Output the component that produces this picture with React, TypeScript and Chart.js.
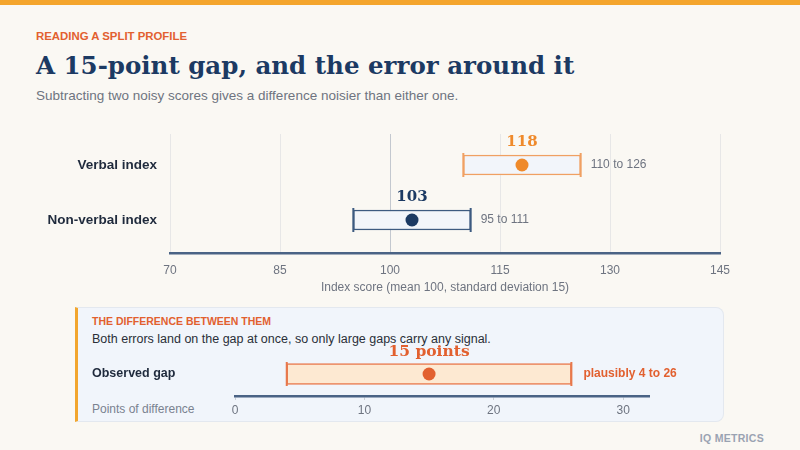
import React, { useEffect, useRef } from "react";
import { Chart, registerables } from "chart.js";

Chart.register(...registerables);

// ---- data ----
const categories = ["Verbal index", "Non-verbal index"];
const scores = [118, 103];
const lows = [110, 95];
const highs = [126, 111];
const scoreTicks = [70, 85, 100, 115, 130, 145];

const gapLabels = ["Observed gap"];
const gapValues = [15];
const gapLows = [4];
const gapHighs = [26];
const gapTicks = [0, 10, 20, 30];

// ---- styles ----
const SANS = "'Liberation Sans', Arial, Helvetica, sans-serif";
const SERIF = "'DejaVu Serif', Georgia, serif";
const NAVY = "#1c3a63";
const ORANGE = "#ef8a2b";
const RED_ORANGE = "#e2602f";
const AXIS = "#4a6385";
const GRAY = "#6e7480";
const rowColors = [ORANGE, NAVY];
const rowBorders = ["#f0a062", "#3c5a80"];

Chart.defaults.font.family = SANS;

const scorePlugin = {
  id: "scoreLabels",
  afterDatasetsDraw(chart: any) {
    const { ctx, scales } = chart;
    const xs = scales.x;
    const ys = scales.y;
    ctx.save();
    categories.forEach((_, i) => {
      const y = ys.getPixelForValue(i + 1);
      const xl = xs.getPixelForValue(lows[i]);
      const xh = xs.getPixelForValue(highs[i]);
      const xm = xs.getPixelForValue(scores[i]);
      ctx.strokeStyle = rowBorders[i];
      ctx.lineWidth = 2;
      ctx.beginPath();
      ctx.moveTo(xl, y - 12);
      ctx.lineTo(xl, y + 12);
      ctx.moveTo(xh, y - 12);
      ctx.lineTo(xh, y + 12);
      ctx.stroke();
      ctx.fillStyle = rowColors[i];
      ctx.font = `bold 15px ${SERIF}`;
      ctx.textAlign = "center";
      ctx.textBaseline = "middle";
      ctx.fillText(String(scores[i]), xm, y - 23);
      ctx.fillStyle = GRAY;
      ctx.font = `12px ${SANS}`;
      ctx.textAlign = "left";
      ctx.fillText(`${lows[i]} to ${highs[i]}`, xh + 10, y);
    });
    ctx.restore();
  },
};

const gapPlugin = {
  id: "gapLabels",
  afterDatasetsDraw(chart: any) {
    const { ctx, scales } = chart;
    const xs = scales.x;
    const ys = scales.y;
    ctx.save();
    gapLabels.forEach((_, i) => {
      const y = ys.getPixelForValue(i);
      const xl = xs.getPixelForValue(gapLows[i]);
      const xh = xs.getPixelForValue(gapHighs[i]);
      const xm = xs.getPixelForValue(gapValues[i]);
      ctx.strokeStyle = "#e8784c";
      ctx.lineWidth = 2;
      ctx.beginPath();
      ctx.moveTo(xl, y - 12);
      ctx.lineTo(xl, y + 12);
      ctx.moveTo(xh, y - 12);
      ctx.lineTo(xh, y + 12);
      ctx.stroke();
      ctx.fillStyle = RED_ORANGE;
      ctx.font = `bold 15.5px ${SERIF}`;
      ctx.textAlign = "center";
      ctx.textBaseline = "middle";
      ctx.fillText(`${gapValues[i]} points`, xm, y - 22);
      ctx.font = `bold 12px ${SANS}`;
      ctx.textAlign = "left";
      ctx.fillText(`plausibly ${gapLows[i]} to ${gapHighs[i]}`, xh + 12, y);
    });
    ctx.restore();
  },
};

function ScoreChart() {
  const ref = useRef<HTMLCanvasElement>(null);
  useEffect(() => {
    if (!ref.current) return;
    const chart = new Chart(ref.current, {
      type: "bar",
      data: {
        datasets: [
          {
            type: "scatter",
            data: categories.map((_, i) => ({ x: scores[i], y: i + 1 })),
            pointRadius: 6.5,
            pointBackgroundColor: rowColors,
            pointBorderWidth: 0,
            order: 0,
          } as any,
          {
            type: "bar",
            data: categories.map((_, i) => ({ x: [lows[i], highs[i]], y: i + 1 })),
            backgroundColor: "#f2f5fa",
            borderColor: rowBorders,
            borderWidth: 1.5,
            borderSkipped: false,
            barThickness: 20,
            order: 1,
          } as any,
        ],
      },
      options: {
        indexAxis: "y",
        animation: false,
        responsive: true,
        maintainAspectRatio: false,
        layout: { padding: { top: 14, right: 80, left: 0, bottom: 0 } },
        plugins: { legend: { display: false }, tooltip: { enabled: false } },
        scales: {
          x: {
            type: "linear",
            min: scoreTicks[0],
            max: scoreTicks[scoreTicks.length - 1],
            offset: false,
            afterBuildTicks: (axis: any) => {
              axis.ticks = scoreTicks.map((v) => ({ value: v }));
            },
            afterFit: (axis: any) => {
              axis.height = 47;
            },
            grid: {
              color: (c: any) => (c.tick && c.tick.value === 100 ? "#c3c8cf" : "#e7e7e7"),
              lineWidth: 1,
              drawTicks: false,
              offset: false,
            },
            border: { display: true, color: AXIS, width: 2.5 },
            ticks: { color: GRAY, font: { size: 12 }, padding: 10 },
            title: {
              display: true,
              text: "Index score (mean 100, standard deviation 15)",
              color: GRAY,
              font: { size: 12 },
              padding: { top: 0, bottom: 5 },
            },
          },
          y: {
            type: "linear",
            reverse: true,
            min: 0.436,
            max: 2.6,
            offset: false,
            bounds: "data",
            afterBuildTicks: (axis: any) => {
              axis.ticks = categories.map((_, i) => ({ value: i + 1 }));
            },
            afterFit: (axis: any) => {
              axis.width = 170;
              axis.paddingTop = 0;
              axis.paddingBottom = 0;
            },
            grid: { display: false, drawTicks: false, offset: false },
            border: { display: false },
            ticks: {
              color: "#1f2a3c",
              font: { size: 13.5, weight: "bold" },
              padding: 13,
              callback: (v: any) => categories[Math.round(Number(v)) - 1] ?? "",
            },
          },
        },
      } as any,
      plugins: [scorePlugin],
    });
    return () => chart.destroy();
  }, []);
  return (
    <div style={{ position: "absolute", left: 0, top: 120, width: 800, height: 180 }}>
      <canvas ref={ref} />
    </div>
  );
}

function GapChart() {
  const ref = useRef<HTMLCanvasElement>(null);
  useEffect(() => {
    if (!ref.current) return;
    const chart = new Chart(ref.current, {
      type: "bar",
      data: {
        labels: gapLabels,
        datasets: [
          {
            type: "scatter",
            data: gapLabels.map((l, i) => ({ x: gapValues[i], y: l })),
            pointRadius: 6.5,
            pointBackgroundColor: RED_ORANGE,
            pointBorderWidth: 0,
            order: 0,
          } as any,
          {
            type: "bar",
            data: gapLabels.map((_, i) => [gapLows[i], gapHighs[i]]),
            backgroundColor: "#fde9d2",
            borderColor: "#e8784c",
            borderWidth: 1.5,
            borderSkipped: false,
            barThickness: 21,
            order: 1,
          } as any,
        ],
      },
      options: {
        indexAxis: "y",
        animation: false,
        responsive: true,
        maintainAspectRatio: false,
        layout: { padding: { top: 12, right: 71, left: 12, bottom: 0 } },
        plugins: { legend: { display: false }, tooltip: { enabled: false } },
        scales: {
          x: {
            type: "linear",
            min: 0,
            max: 32,
            afterBuildTicks: (axis: any) => {
              axis.ticks = gapTicks.map((v) => ({ value: v }));
            },
            afterFit: (axis: any) => {
              axis.height = 24;
            },
            grid: { display: true, drawOnChartArea: false, drawTicks: true, tickLength: 4, color: "#c9ced6" },
            border: { display: true, color: AXIS, width: 2.5 },
            ticks: { color: GRAY, font: { size: 12 }, padding: 3 },
          },
          y: {
            type: "category",
            afterFit: (axis: any) => {
              axis.width = 143;
            },
            grid: { display: false, drawTicks: false },
            border: { display: false },
            ticks: {
              color: "#1f2a3c",
              font: { size: 12.5, weight: "bold" },
              crossAlign: "far",
              padding: 0,
            },
          },
        },
      } as any,
      plugins: [gapPlugin],
    });
    return () => chart.destroy();
  }, []);
  return (
    <div style={{ position: "absolute", left: 80, top: 340, width: 640, height: 80 }}>
      <canvas ref={ref} />
    </div>
  );
}

const txt = (
  left: number,
  centerY: number,
  size: number,
  extra: React.CSSProperties,
  content: string
) => (
  <div
    style={{
      position: "absolute",
      left,
      top: centerY - size * 0.6,
      fontSize: size,
      lineHeight: `${size * 1.2}px`,
      whiteSpace: "nowrap",
      fontFamily: SANS,
      ...extra,
    }}
  >
    {content}
  </div>
);

export default function App() {
  return (
    <div
      style={{
        position: "fixed",
        left: 0,
        top: 0,
        width: 800,
        height: 450,
        background: "#faf8f3",
        overflow: "hidden",
      }}
    >
      <div style={{ position: "absolute", left: 0, top: 0, width: 800, height: 5, background: "#f4a52c" }} />
      {txt(36, 37, 11.4, { fontWeight: "bold", color: RED_ORANGE }, "READING A SPLIT PROFILE")}
      {txt(36, 66, 24.5, { fontWeight: "bold", color: NAVY, fontFamily: SERIF }, "A 15-point gap, and the error around it")}
      {txt(36, 96, 13.5, { color: GRAY }, "Subtracting two noisy scores gives a difference noisier than either one.")}
      <ScoreChart />
      <div
        style={{
          position: "absolute",
          left: 75,
          top: 307,
          width: 649,
          height: 115,
          background: "#f1f5fb",
          border: "1px solid #e3e8ef",
          borderLeft: "3px solid #f2a62e",
          borderRadius: "0 8px 8px 0",
          boxSizing: "border-box",
        }}
      />
      {txt(92, 321, 10.5, { fontWeight: "bold", color: RED_ORANGE }, "THE DIFFERENCE BETWEEN THEM")}
      {txt(92, 339, 12.5, { color: "#2a2f38" }, "Both errors land on the gap at once, so only large gaps carry any signal.")}
      {txt(92, 409, 12, { color: "#7a8290" }, "Points of difference")}
      <GapChart />
      <div
        style={{
          position: "absolute",
          right: 36,
          top: 432,
          fontSize: 10.5,
          lineHeight: "12px",
          fontWeight: "bold",
          color: "#9aa3b2",
          fontFamily: SANS,
          letterSpacing: 0.3,
        }}
      >
        IQ METRICS
      </div>
    </div>
  );
}
